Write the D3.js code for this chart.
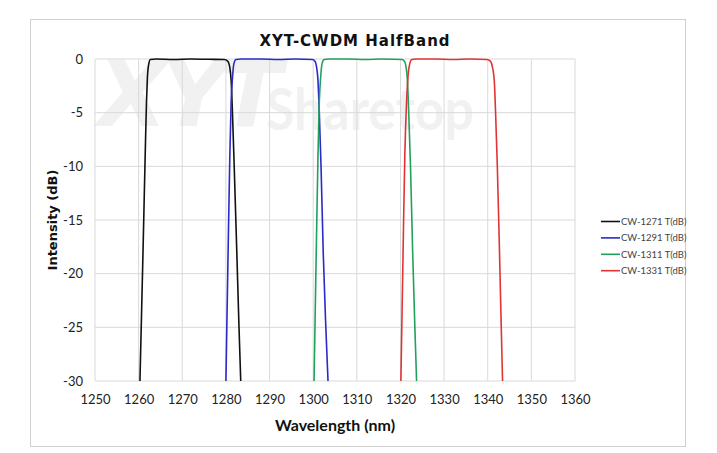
<!DOCTYPE html>
<html>
<head>
<meta charset="utf-8">
<script src="https://cdn.jsdelivr.net/npm/d3@7"></script>
<style>
  body { margin: 0; background: #fff; }
  svg { display: block; }
</style>
</head>
<body>
<script>
// values
const xTicks = [1250, 1260, 1270, 1280, 1290, 1300, 1310, 1320, 1330, 1340, 1350, 1360];
const yTicks = [0, -5, -10, -15, -20, -25, -30];

const seriesNames = ["CW-1271 T(dB)", "CW-1291 T(dB)", "CW-1311 T(dB)", "CW-1331 T(dB)"];
const seriesColors = ["#111111", "#2a2ac8", "#22a05e", "#e03434"];

const wl1271 = [1260.3, 1261.0, 1261.5, 1261.8, 1262.0, 1262.3, 1262.7, 1264, 1268, 1272, 1276, 1279.6, 1280.4, 1280.9, 1281.2, 1281.5, 1281.9, 1282.5, 1283.0, 1283.4];
const db1271 = [-30, -18, -9, -4, -1.8, -0.5, -0.05, 0, -0.05, 0, -0.03, -0.05, -0.2, -0.8, -2, -5, -10, -18, -25, -30];

const wl1291 = [1280.0, 1280.5, 1280.9, 1281.2, 1281.5, 1281.8, 1282.3, 1283.5, 1288, 1292, 1296, 1299.8, 1300.4, 1300.8, 1301.1, 1301.4, 1301.8, 1302.3, 1302.9, 1303.4];
const db1291 = [-30, -18, -9, -4, -1.8, -0.5, -0.05, 0, 0, -0.05, 0, -0.05, -0.2, -0.8, -2, -5, -10, -18, -25, -30];

const wl1311 = [1300.2, 1300.7, 1301.1, 1301.4, 1301.7, 1302.0, 1302.5, 1303.5, 1308, 1312, 1316, 1320.3, 1320.9, 1321.3, 1321.6, 1321.9, 1322.3, 1322.8, 1323.3, 1323.7];
const db1311 = [-30, -18, -9, -4, -1.8, -0.5, -0.05, 0, 0, -0.05, 0, -0.05, -0.2, -0.8, -2, -5, -10, -18, -25, -30];

const wl1331 = [1320.1, 1320.6, 1321.0, 1321.4, 1321.7, 1322.1, 1322.6, 1323.6, 1328, 1332, 1336, 1339.8, 1340.6, 1341.1, 1341.5, 1341.8, 1342.2, 1342.7, 1343.1, 1343.4];
const db1331 = [-30, -18, -9, -4, -1.8, -0.5, -0.05, 0, 0, -0.05, 0, -0.05, -0.2, -0.8, -2, -5, -10, -18, -25, -30];

const seriesWl = [wl1271, wl1291, wl1311, wl1331];
const seriesDb = [db1271, db1291, db1311, db1331];

const W = 717, H = 453;
const plot = { left: 95, top: 59, right: 575, bottom: 381 };

const svg = d3.select("body").append("svg")
  .attr("width", W)
  .attr("height", H);

// chart frame
svg.append("rect")
  .attr("x", 30.5).attr("y", 19.5)
  .attr("width", 655).attr("height", 427)
  .attr("fill", "#fff")
  .attr("stroke", "#d0d0d0");

const x = d3.scaleLinear().domain([1250, 1360]).range([plot.left, plot.right]);
const y = d3.scaleLinear().domain([-30, 0]).range([plot.bottom, plot.top]);

// watermark
const wm = svg.append("g").attr("fill", "#f1f1f1");
wm.append("text")
  .attr("x", 98).attr("y", 126)
  .attr("font-family", "DejaVu Sans")
  .attr("font-weight", "bold")
  .attr("font-style", "italic")
  .attr("font-size", 90)
  .attr("letter-spacing", -6)
  .text("XYT");
wm.append("text")
  .attr("x", 266).attr("y", 130)
  .attr("font-family", "Lato")
  .attr("font-weight", "bold")
  .attr("font-size", 58)
  .attr("textLength", 208)
  .attr("lengthAdjust", "spacingAndGlyphs")
  .text("Sharetop");

// grid
svg.append("g")
  .selectAll("line")
  .data(xTicks)
  .join("line")
  .attr("x1", d => x(d)).attr("x2", d => x(d))
  .attr("y1", plot.top).attr("y2", plot.bottom)
  .attr("stroke", "#d9d9d9");

svg.append("g")
  .selectAll("line")
  .data(yTicks)
  .join("line")
  .attr("x1", plot.left).attr("x2", plot.right)
  .attr("y1", d => y(d)).attr("y2", d => y(d))
  .attr("stroke", "#d9d9d9");

// axes (labels only)
const xAxis = svg.append("g")
  .attr("transform", `translate(0,${plot.bottom})`)
  .call(d3.axisBottom(x).tickValues(xTicks).tickSize(0).tickPadding(14).tickFormat(d3.format("d")));
const yAxis = svg.append("g")
  .attr("transform", `translate(${plot.left},0)`)
  .call(d3.axisLeft(y).tickValues(yTicks).tickSize(0).tickPadding(12).tickFormat(d => d === 0 ? "0" : "-" + Math.abs(d)));
[xAxis, yAxis].forEach(a => {
  a.select(".domain").remove();
  a.selectAll("text")
    .attr("font-family", "Lato")
    .attr("font-size", 13)
    .attr("fill", "#222");
});

// curves
const line = d3.line()
  .x(d => x(d[0]))
  .y(d => y(d[1]))
  .curve(d3.curveMonotoneX);

seriesWl.forEach((wl, i) => {
  svg.append("path")
    .datum(wl.map((w, j) => [w, seriesDb[i][j]]))
    .attr("fill", "none")
    .attr("stroke", seriesColors[i])
    .attr("stroke-width", 1.6)
    .attr("d", line);
});

// titles
svg.append("text")
  .attr("x", 355).attr("y", 46)
  .attr("text-anchor", "middle")
  .attr("font-family", "DejaVu Sans")
  .attr("font-weight", "bold")
  .attr("font-size", 15)
  .attr("letter-spacing", 1)
  .attr("fill", "#111")
  .text("XYT-CWDM HalfBand");

svg.append("text")
  .attr("transform", `translate(57,${(plot.top + plot.bottom) / 2}) rotate(-90)`)
  .attr("text-anchor", "middle")
  .attr("font-family", "DejaVu Sans")
  .attr("font-weight", "bold")
  .attr("font-size", 13)
  .attr("fill", "#111")
  .text("Intensity (dB)");

svg.append("text")
  .attr("x", 335).attr("y", 431)
  .attr("text-anchor", "middle")
  .attr("font-family", "Lato")
  .attr("font-weight", "bold")
  .attr("font-size", 16)
  .attr("fill", "#111")
  .text("Wavelength (nm)");

// legend
const legend = svg.append("g")
  .selectAll("g")
  .data(seriesNames)
  .join("g")
  .attr("transform", (d, i) => `translate(601,${221.5 + i * 16.4})`);
legend.append("line")
  .attr("x1", 0).attr("x2", 19)
  .attr("stroke", (d, i) => seriesColors[i])
  .attr("stroke-width", 1.6);
legend.append("text")
  .attr("x", 20).attr("dy", "0.35em")
  .attr("font-family", "Lato")
  .attr("font-size", 9.5)
  .attr("fill", "#444")
  .text(d => d);
</script>
</body>
</html>
